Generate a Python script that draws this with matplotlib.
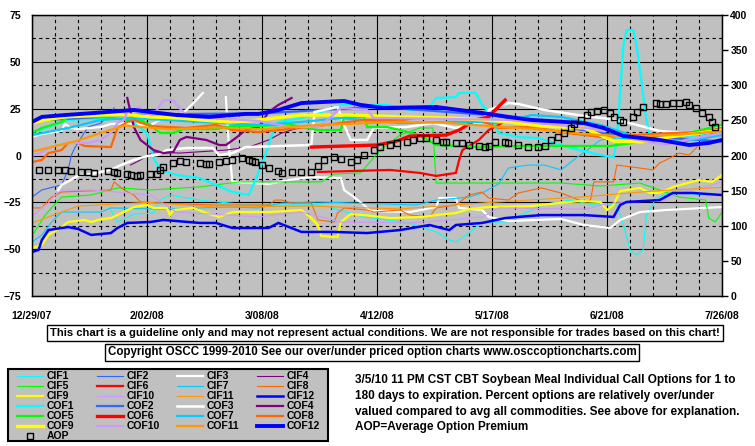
import numpy as np
import matplotlib
matplotlib.use('Agg')
import matplotlib.pyplot as plt
from matplotlib.lines import Line2D
from matplotlib.patches import Rectangle

plt.rcParams['font.family'] = ['Liberation Sans', 'DejaVu Sans']
plt.rcParams['font.weight'] = 'bold'

nan = np.nan

# x = days after 12/29/07, y = percent over/under valued (left axis)
cif1_day = [24, 26, 31, 37, 39, 42, 51, 66, 88, 101, 115, 123, 127, 129, 133, 137, 145, 155, 164, 171,
            178, 180, 182, 184, 186, 187, 190, 194, 210]
cif1_val = [-29.1, -35.5, -31.3, -30.7, -23.8, -21.1, -23.8, -26.4, -26.4, -32.8, -36.0, -40.8, -45.1, -46.2,
            -41.4, -35.5, -35.5, -26.4, -23.8, -26.4, -26.4, -37.1, -50.4, -53.1, -50.4, -31.8, -22.7, -20.0, -21.1]

cif2_day = [0, 3, 9, 11, 12, 13, 17, 21, 24, 25]
cif2_val = [-22.2, -18.4, -15.7, -7.7, 0.2, 4.0, 15.2, 17.3, 23.2, 25.4]

cif3_day = [0, 3, 9, 10, 12, 14, 21, 24, 29, 33, 35, 39, 44, 47, 50, 52, 55, 59, 60, 61,
            72, 78, 85, 94, 95, 98, 101, 103, 115, 123, 124, 129, 130, 137, 139, 145, 161, 168, 176, 179,
            185, 193, 210]
cif3_val = [9.9, 11.5, 13.1, 16.8, 14.7, 14.1, 15.2, 16.8, 17.3, 16.3, 15.2, 19.0, 20.6, 24.3, 29.6, 33.4, nan,
            31.2, 2.9, -14.1, -15.2, -13.1, -11.5, -12.0, -18.4, -22.2, -26.4, -29.6, -30.2, -27.5, -22.7, -22.7,
            -28.0, -29.1, -32.8, -35.0, -33.9, -37.1, -38.7, -34.4, -30.2, -29.1, -27.5]

cif4_day = [30, 33, 37, 45, 59, 66, 72, 76, 79, 82]
cif4_val = [-5.1, -2.4, 1.9, 1.3, 2.9, 4.5, 8.3, 12.0, 13.6, 15.2]

cif5_day = [0, 4, 9, 18, 26, 36, 51, 63, 88, 92, 100, 106, 112, 118, 122, 123, 136, 161, 173, 185,
            191, 197, 205, 206, 208, 210]
cif5_val = [-43.0, -31.8, -22.2, -21.1, -17.3, -18.4, -16.8, -14.1, -14.1, -9.9, -9.3, 2.9, 10.9, 14.7, 14.7,
            -14.7, -14.7, -14.7, -16.3, -14.7, -18.4, -22.2, -23.8, -33.4, -35.5, -30.2]

cif6_day = [87, 109, 118, 123, 129, 130, 131, 136, 139, 142, 145]
cif6_val = [-8.8, -7.7, -9.3, -10.9, -9.3, -2.4, 2.9, 8.3, 13.6, 16.3, 20.0]

cif7_day = [0, 3, 6, 9, 21, 24, 39, 61, 69, 76, 87, 117, 123, 133, 137, 142, 145, 151, 156, 161,
            166, 169, 173, 177, 191, 210]
cif7_val = [-46.2, -42.4, -35.5, -30.2, -30.2, -28.0, -28.6, -27.5, -28.0, -25.4, -24.8, -26.4, -23.8, -22.2,
            -20.0, -15.2, -6.7, -5.1, -5.1, -7.7, -0.8, 2.9, 8.3, 9.3, 8.3, 12.5]

cif8_day = [0, 3, 5, 6, 9, 24, 25, 28, 31, 33, 39, 55, 72, 74, 76, 79, 85, 87, 92, 93,
            95, 102, 104, 112, 115, 121, 123, 129, 133, 137, 139, 145, 148, 155, 161, 168, 170, 171, 177, 178,
            185, 189, 191, 193, 197, 200, 203, 207, 210]
cif8_val = [-28.0, -28.0, -23.8, -22.2, -19.5, -18.4, -14.1, -18.4, -21.1, -24.8, -25.4, -26.4, -26.4, -23.8,
            -23.8, -25.4, -25.4, -34.4, -35.5, -30.7, -28.0, -29.1, -30.2, -29.1, -31.8, -32.8, -28.0, -26.4,
            -21.1, -19.5, -22.7, -23.8, -20.0, -17.3, -20.0, -24.8, -23.8, -14.1, -14.1, -5.1, -6.7, -7.7, -4.0,
            -2.4, 1.3, 0.2, 5.6, 12.0, 16.3]

cif9_day = [0, 3, 5, 9, 11, 16, 18, 20, 24, 26, 31, 35, 37, 41, 42, 43, 49, 53, 57, 61,
            72, 82, 85, 87, 88, 93, 94, 97, 101, 109, 119, 123, 129, 133, 139, 152, 160, 167, 173, 175,
            177, 179, 185, 188, 191, 195, 203, 207, 210]
cif9_val = [-49.4, -47.8, -42.4, -38.2, -35.5, -34.4, -35.5, -34.4, -33.4, -31.8, -27.5, -26.4, -28.0, -28.0,
            -31.8, -29.1, -28.0, -30.7, -32.8, -30.2, -30.2, -29.1, -33.4, -37.1, -43.0, -43.5, -35.5, -31.3,
            -31.8, -33.4, -32.8, -31.8, -30.7, -28.6, -27.5, -27.0, -25.4, -24.3, -24.8, -29.1, -26.4, -19.0,
            -17.3, -20.0, -20.0, -16.8, -13.1, -14.1, -10.4]

cif10_day = [0, 3, 5, 7, 9, 18, 36, 44, 69, 82, 94, 115, 127, 137, 142, 169, 173, 177, 193, 200, 205, 210]
cif10_val = [-32.8, -28.0, -25.4, -21.1, -18.4, -18.4, -21.1, -30.2, -32.8, -30.2, -35.5, -36.0, -34.4, -32.8,
             -28.0, -28.6, -26.4, -25.4, -23.8, -18.4, -16.8, -14.1]

cif11_day = [0, 14, 35, 56, 84, 112, 140, 168, 189, 210]
cif11_val = [-36.0, -27.0, -25.0, -27.5, -27.0, -28.5, -25.0, -22.0, -19.0, -17.0]

cif12_day = [0, 2, 3, 5, 9, 11, 14, 18, 24, 26, 29, 36, 40, 51, 56, 61, 72, 75, 82, 92,
             102, 112, 121, 127, 129, 137, 144, 148, 155, 168, 177, 179, 181, 191, 195, 201, 210]
cif12_val = [-51.5, -50.4, -45.1, -39.8, -38.7, -38.2, -39.2, -42.4, -41.4, -38.7, -36.0, -35.5, -34.4, -36.0,
             -36.0, -38.7, -38.7, -36.0, -40.8, -40.8, -41.4, -39.8, -37.1, -39.8, -37.1, -36.0, -33.4, -32.8,
             -31.8, -31.8, -32.8, -26.4, -24.8, -23.8, -20.0, -20.0, -21.1]

cof1_day = [0, 5, 11, 24, 29, 31, 35, 36, 37, 39, 44, 51, 56, 61, 66, 68, 71, 73, 75, 82,
            88, 94, 108, 115, 121, 123, 129, 130, 135, 137, 139, 142, 148, 154, 163, 173, 177, 178, 180, 181,
            183, 184, 187, 188, 197, 210]
cof1_val = [12.5, 15.2, 19.0, 20.0, 19.0, 17.3, 12.0, 5.6, -1.3, -7.7, -10.4, -12.0, -15.7, -19.5, -21.1, -13.1,
            0.2, 10.9, 17.9, 20.0, 23.2, 27.0, 27.0, 24.3, 25.9, 30.7, 31.2, 33.4, 33.4, 27.0, 23.2, 12.0, 9.9,
            9.3, 4.5, 0.2, -0.8, 8.3, 59.0, 67.0, 67.0, 59.0, 19.0, 10.9, 8.3, 14.7]

cof2_day = [0, 35, 70, 105, 140, 175, 210]
cof2_val = [18.5, 22.0, 22.5, 26.0, 21.5, 11.5, 7.5]

cof3_day = [8, 9, 14, 18, 24, 27, 31, 35, 38, 41, 47, 55, 57, 61, 65, 85, 86, 93, 95, 97,
            102, 104, 114, 122, 129, 137, 139, 145, 148, 156, 168, 176, 183, 191, 199, 210]
cof3_val = [-18.4, -15.7, -10.9, -9.9, -7.7, -5.1, -2.4, -0.3, 0.2, 2.9, 4.0, 4.0, 0.2, 1.3, 4.5, 5.6, 23.2,
            25.9, 16.3, 8.3, 8.3, 14.7, 15.2, 17.3, 14.7, 17.9, 24.3, 28.0, 27.5, 24.3, 21.1, 19.5, 16.8, 13.1,
            12.0, 15.2]

cof4_day = [29, 30, 31, 33, 35, 37, 40, 43, 45, 47, 53, 57, 59, 62, 65, 69, 72, 75, 79]
cof4_val = [30.7, 23.2, 15.2, 8.3, 5.6, 2.9, 1.3, 1.9, 8.3, 9.9, 8.3, 5.6, 5.6, 9.3, 13.6, 15.2, 23.2, 27.0, 30.7]

cof5_day = [0, 3, 9, 11, 21, 29, 33, 36, 39, 43, 46, 56, 61, 69, 75, 79, 87, 94, 95, 101,
            102, 108, 112, 118, 123, 137, 148, 161, 176, 185, 197, 210]
cof5_val = [12.0, 14.7, 17.9, 20.6, 20.6, 19.0, 19.0, 16.3, 12.0, 12.0, 14.1, 14.1, 15.7, 15.7, 16.3, 16.3,
            13.6, 13.6, 20.6, 20.6, 15.2, 15.2, 13.6, 10.9, 5.6, 4.5, 5.1, 5.1, 5.1, 7.2, 10.9, 16.3]

cof6_day = [85, 105, 111, 115, 126, 130, 135, 139, 141, 144]
cof6_val = [4.5, 5.6, 7.7, 10.4, 10.9, 13.6, 19.0, 20.6, 24.3, 29.6]

cof7_day = [0, 11, 21, 30, 51, 69, 82, 94, 112, 127, 137, 142, 152, 161, 173, 185, 197, 210]
cof7_val = [10.9, 14.7, 19.0, 20.0, 17.9, 16.3, 17.9, 20.0, 17.3, 17.9, 17.9, 17.3, 21.6, 20.6, 16.3, 9.3, 7.2, 10.9]

cof8_day = [0, 3, 5, 9, 11, 14, 16, 24, 26, 29, 31, 36, 47, 56, 61, 69, 87, 101, 113, 117,
            127, 137, 142, 152, 163, 173, 183, 195, 203, 210]
cof8_val = [-3.5, -2.4, 1.3, 2.9, 6.7, 6.7, 5.1, 4.5, 14.7, 17.9, 19.0, 15.7, 14.7, 16.3, 13.6, 12.5, 15.7,
            19.0, 19.0, 20.0, 20.0, 18.4, 14.7, 15.2, 12.0, 9.9, 10.9, 12.0, 12.5, 14.7]

cof9_day = [0, 4, 10, 21, 30, 36, 45, 51, 60, 66, 82, 97, 112, 127, 137, 145, 155, 168, 173, 177,
            185, 194, 203, 210]
cof9_val = [17.3, 19.0, 20.6, 21.6, 21.6, 20.6, 20.0, 19.0, 17.9, 18.4, 21.6, 21.6, 20.6, 20.0, 19.0, 17.9,
            15.7, 14.7, 10.9, 7.7, 7.2, 9.9, 12.0, 13.6]

cof10_day = [0, 3, 7, 11, 17, 21, 24, 26, 28, 29, 33, 34, 37, 38, 40, 43, 44, 46, 48, 69,
             79, 87, 91, 94, 102, 104, 108, 127, 145, 163, 177, 183, 193, 199, 210]
cof10_val = [-0.3, 1.9, 5.1, 6.7, 6.7, 8.3, 12.0, 17.3, 19.0, 23.2, 25.9, 22.7, 21.6, 24.3, 29.6, 29.6, 27.0,
             23.2, 20.6, 18.4, 15.2, 15.2, 20.6, 25.4, 24.3, 20.0, 20.0, 19.5, 19.0, 15.7, 13.1, 8.8, 5.6, 8.3, 12.0]

cof11_day = [0, 14, 28, 42, 56, 70, 84, 98, 112, 126, 140, 154, 168, 182, 196, 210]
cof11_val = [2.0, 8.0, 16.0, 14.0, 15.0, 14.0, 16.0, 17.0, 18.0, 17.5, 15.5, 14.0, 11.5, 10.0, 11.0, 13.0]

cof12_day = [0, 3, 10, 19, 31, 36, 44, 54, 65, 69, 75, 82, 95, 100, 107, 123, 130, 137, 145, 152,
             168, 174, 180, 191, 200, 206, 210]
cof12_val = [17.9, 20.6, 21.6, 22.7, 24.3, 23.2, 21.6, 20.6, 22.2, 22.2, 24.3, 28.0, 29.1, 27.0, 25.4, 25.9,
             24.3, 22.7, 20.6, 19.0, 17.3, 14.7, 10.4, 8.3, 5.6, 6.7, 8.3]

# average option premium (right axis)
aop_day = [2, 5, 8, 10, 12, 15, 17, 19, 23, 25, 26, 29, 30, 32, 33, 36, 38, 39, 40, 43,
           45, 47, 51, 53, 54, 57, 59, 61, 64, 66, 67, 68, 70, 72, 75, 76, 79, 82, 85, 87,
           89, 92, 94, 97, 99, 101, 104, 106, 109, 111, 114, 116, 118, 120, 123, 125, 126, 129, 131, 133,
           136, 138, 139, 141, 144, 145, 148, 151, 154, 156, 158, 160, 162, 164, 165, 167, 169, 170, 172, 174,
           176, 177, 179, 180, 183, 184, 186, 190, 191, 193, 195, 197, 199, 200, 202, 204, 206, 207, 208]
aop_val = [179, 179, 179, 179, 178, 177, 177, 175, 178, 177, 175, 174, 172, 171, 172, 174, 174, 179, 184, 189,
           192, 191, 189, 188, 188, 191, 192, 194, 196, 194, 192, 191, 186, 182, 178, 175, 177, 177, 177, 185,
           194, 198, 195, 191, 194, 201, 208, 212, 215, 218, 219, 222, 225, 225, 222, 219, 219, 218, 218, 215,
           214, 212, 214, 219, 219, 218, 215, 212, 212, 214, 222, 226, 232, 239, 245, 251, 258, 262, 263, 265,
           261, 255, 251, 248, 255, 262, 269, 275, 273, 273, 275, 275, 276, 272, 268, 261, 255, 248, 241]

x_ticks = [0, 35, 70, 105, 140, 175, 210]
x_labels = ['12/29/07', '2/02/08', '3/08/08', '4/12/08', '5/17/08', '6/21/08', '7/26/08']

names = ['CIF1', 'CIF2', 'CIF3', 'CIF4', 'CIF5', 'CIF6', 'CIF7', 'CIF8', 'CIF9', 'CIF10', 'CIF11', 'CIF12',
         'COF1', 'COF2', 'COF3', 'COF4', 'COF5', 'COF6', 'COF7', 'COF8', 'COF9', 'COF10', 'COF11', 'COF12']
series = [(cif1_day, cif1_val), (cif2_day, cif2_val), (cif3_day, cif3_val), (cif4_day, cif4_val),
          (cif5_day, cif5_val), (cif6_day, cif6_val), (cif7_day, cif7_val), (cif8_day, cif8_val),
          (cif9_day, cif9_val), (cif10_day, cif10_val), (cif11_day, cif11_val), (cif12_day, cif12_val),
          (cof1_day, cof1_val), (cof2_day, cof2_val), (cof3_day, cof3_val), (cof4_day, cof4_val),
          (cof5_day, cof5_val), (cof6_day, cof6_val), (cof7_day, cof7_val), (cof8_day, cof8_val),
          (cof9_day, cof9_val), (cof10_day, cof10_val), (cof11_day, cof11_val), (cof12_day, cof12_val)]

base_colors = ['#00FFFF', '#3366FF', '#FFFFFF', '#800080', '#00FF00', '#FF0000',
               '#00CCFF', '#FF6600', '#FFFF00', '#CC99FF', '#FF9900', '#0000FF']
colors = base_colors * 2
cif_w = [0.8, 0.8, 1.6, 0.8, 0.8, 1.6, 0.8, 0.8, 1.6, 0.8, 0.8, 1.8]
cof_w = [1.6, 1.6, 1.8, 1.6, 1.6, 2.4, 1.6, 1.6, 2.4, 1.6, 1.6, 2.8]
widths = cif_w + cof_w

W, H = 755, 446


def fx(x):
    return x / W


def fy(y):
    return 1 - y / H


fig = plt.figure(figsize=(W / 100, H / 100), dpi=100)
ax = fig.add_axes([fx(32), fy(296), (722 - 32) / W, (296 - 15) / H])
ax.set_facecolor('#C0C0C0')
ax.set_xlim(0, 210)
ax.set_ylim(-75, 75)
ax.set_xticks(x_ticks)
ax.set_xticks(np.arange(0, 211, 7), minor=True)
ax.set_xticklabels(x_labels)
ax.set_yticks(np.arange(-75, 76, 25))
ax.set_yticks(np.arange(-62.5, 75, 25), minor=True)
ax.grid(which='major', color='black', lw=0.8, ls='-')
ax.grid(which='minor', color='black', lw=0.8, ls=(0, (3, 3)))
ax.set_axisbelow(True)
ax.tick_params(which='both', length=0, labelsize=7.5)
ax.tick_params(axis='y', pad=8)
ax.tick_params(axis='x', pad=11)
for s in ax.spines.values():
    s.set_color('black')
    s.set_linewidth(1)

for (d, v), c, lw in zip(series, colors, widths):
    ax.plot(d, v, color=c, lw=lw, solid_joinstyle='miter')

ax2 = ax.twinx()
ax2.set_ylim(0, 400)
ax2.set_yticks(np.arange(0, 401, 50))
ax2.tick_params(axis='y', length=4, width=1, direction='out', pad=2, labelsize=7.5)
ax2.plot(aop_day, aop_val, ls='none', marker='s', ms=5, mfc='none', mec='black', mew=1)

# disclaimer boxes
fig.text(fx(385), fy(333),
         'This chart is a guideline only and may not represent actual conditions. '
         'We are not responsible for trades based on this chart!',
         ha='center', va='center', fontsize=8.1,
         bbox=dict(boxstyle='square,pad=0.25', fc='white', ec='black', lw=1))
fig.text(fx(372), fy(352.5),
         'Copyright OSCC 1999-2010 See our over/under priced option charts www.osccoptioncharts.com',
         ha='center', va='center', fontsize=8.3,
         bbox=dict(boxstyle='square,pad=0.25', fc='white', ec='black', lw=1))

# legend box, row-major 4 columns
fig.add_artist(Rectangle((fx(8), fy(441)), 320 / W, 72 / H, transform=fig.transFigure,
                         fc='#C0C0C0', ec='black', lw=1.5))
for i, name in enumerate(names):
    r, c = divmod(i, 4)
    x0 = 17 + 80 * c
    y0 = 376 + 10 * r
    fig.add_artist(Line2D([fx(x0), fx(x0 + 26)], [fy(y0), fy(y0)], color=colors[i],
                          lw=widths[i], transform=fig.transFigure))
    fig.text(fx(x0 + 30), fy(y0), name, ha='left', va='center', fontsize=7.5)
fig.add_artist(Line2D([fx(30)], [fy(436)], ls='none', marker='s', ms=4, mfc='none',
                      mec='black', mew=1, transform=fig.transFigure))
fig.text(fx(47), fy(436), 'AOP', ha='left', va='center', fontsize=7.5)

fig.text(fx(355), fy(374),
         '3/5/10 11 PM CST CBT Soybean Meal Individual Call Options for 1 to\n'
         '180 days to expiration. Percent options are relatively over/under\n'
         'valued compared to avg all commodities. See above for explanation.\n'
         'AOP=Average Option Premium',
         ha='left', va='top', fontsize=8.5, linespacing=1.42)

fig.savefig('out.png', dpi=100)
